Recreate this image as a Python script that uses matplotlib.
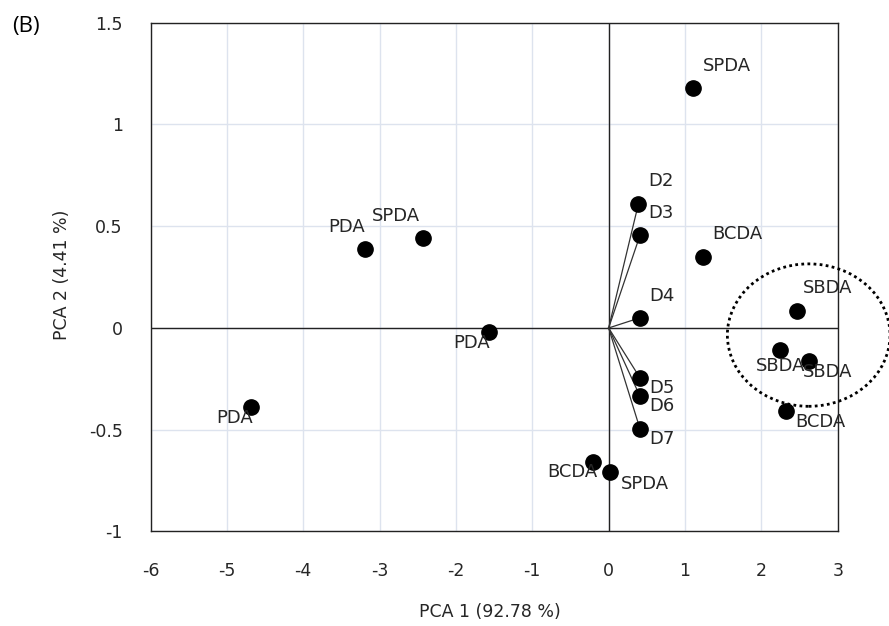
import numpy as np
import matplotlib
matplotlib.use("Agg")
import matplotlib.pyplot as plt
from matplotlib.patches import Ellipse

# PCA scores of the samples
sample_names = ['SPDA', 'BCDA', 'SBDA', 'SBDA', 'SBDA', 'BCDA', 'SPDA', 'BCDA',
                'PDA', 'SPDA', 'PDA', 'PDA']
sample_pc1 = [1.11, 1.23, 2.47, 2.25, 2.62, 2.32, 0.02, -0.20,
              -3.19, -2.43, -1.57, -4.68]
sample_pc2 = [1.18, 0.35, 0.085, -0.11, -0.16, -0.41, -0.71, -0.66,
              0.39, 0.44, -0.02, -0.39]

# loadings of the variables
load_names = ['D2', 'D3', 'D4', 'D5', 'D6', 'D7']
load_pc1 = [0.39, 0.41, 0.41, 0.41, 0.41, 0.41]
load_pc2 = [0.61, 0.455, 0.05, -0.245, -0.335, -0.495]

# label offsets (left edge, vertical centre) in points
sample_offsets = [(7, 15.8), (7.2, 16.5), (3.9, 16.5), (-17.7, -11.2), (-4.3, -8.5),
                  (6.5, -7.8), (7.7, -8.4), (-33.1, -6.9), (-26.4, 15.8),
                  (-36.7, 15.8), (-25.7, -7.6), (-25.2, -7.8)]
load_offsets = [(7.2, 16.5), (6, 15.8), (6.7, 15.6), (6.7, -7.5), (6.7, -7.2), (6.7, -7.5)]

xticks = np.arange(-6, 4, 1)
yticks = np.arange(-1, 1.51, 0.5)

plt.rcParams['axes.unicode_minus'] = False
plt.rcParams['font.family'] = 'DejaVu Sans'
txt = '#262626'

fig = plt.figure(figsize=(8.89, 6.26), dpi=100)
ax = fig.add_axes([0.1693, 0.151, 0.773, 0.8127])

ax.set_xlim(-6, 3)
ax.set_ylim(-1, 1.5)
ax.set_xticks(xticks)
ax.set_yticks(yticks)
ax.set_xticklabels(['%d' % v for v in xticks])
ax.set_yticklabels(['%g' % v for v in yticks])
ax.tick_params(length=0, labelsize=12.5, colors=txt)
ax.tick_params(axis='x', pad=22)
ax.tick_params(axis='y', pad=20)
ax.grid(True, color='#dde3ee', linewidth=1)
ax.set_axisbelow(True)
for sp in ax.spines.values():
    sp.set_color('#222222')
    sp.set_linewidth(1)

ax.axhline(0, color='#222222', linewidth=1, zorder=1)
ax.axvline(0, color='#222222', linewidth=1, zorder=1)

for x, y in zip(load_pc1, load_pc2):
    ax.plot([0, x], [0, y], color='#333333', linewidth=0.9, zorder=2)

ax.plot(sample_pc1, sample_pc2, 'o', color='black', markersize=11, zorder=3)
ax.plot(load_pc1, load_pc2, 'o', color='black', markersize=11, zorder=3)

for name, x, y, off in zip(sample_names, sample_pc1, sample_pc2, sample_offsets):
    ax.annotate(name, (x, y), xytext=off, textcoords='offset points',
                fontsize=13, color=txt, ha='left', va='center', zorder=4)
for name, x, y, off in zip(load_names, load_pc1, load_pc2, load_offsets):
    ax.annotate(name, (x, y), xytext=off, textcoords='offset points',
                fontsize=13, color=txt, ha='left', va='center', zorder=4)

ell = Ellipse((2.62, -0.035), 2.13, 0.70, fill=False, edgecolor='black',
              linestyle=(0, (1, 1.2)), linewidth=2, clip_on=False, zorder=5)
ax.add_patch(ell)

fig.text(0.551, 0.0216, 'PCA 1 (92.78 %)', fontsize=12.5, color=txt,
         ha='center', va='center')
fig.text(0.0697, 0.5607, 'PCA 2 (4.41 %)', fontsize=12.5, color=txt,
         ha='center', va='center', rotation=90)

fig.text(0.0135, 0.958, '(B)', fontsize=16, family='Open Sans', ha='left', va='center')

fig.savefig('out.png', dpi=100)
